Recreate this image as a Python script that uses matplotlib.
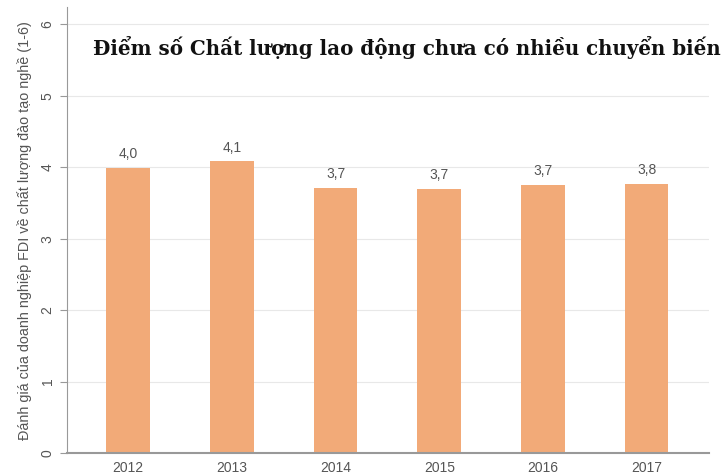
import numpy as np
import matplotlib.pyplot as plt

years = ['2012', '2013', '2014', '2015', '2016', '2017']
scores = [3.99, 4.08, 3.71, 3.69, 3.75, 3.76]
labels = ['4,0', '4,1', '3,7', '3,7', '3,7', '3,8']

plt.rcParams['font.family'] = ['Liberation Sans', 'DejaVu Sans']

fig = plt.figure(figsize=(7.22, 4.75), dpi=100)
ax = fig.add_axes([0.0928, 0.0463, 0.889, 0.9387])

x = np.arange(len(years))
bars = ax.bar(x, scores, width=0.42, color='#f2aa78', zorder=2)
for b, lab in zip(bars, labels):
    ax.annotate(lab, (b.get_x() + b.get_width() / 2, b.get_height()),
                xytext=(0, 5), textcoords='offset points',
                ha='center', va='bottom', fontsize=10, color='#555555')

ax.set_xlim(-0.59, 5.6)
ax.set_ylim(0, 6.24)
ax.set_yticks(range(7))
ax.set_xticks(x)
ax.set_xticklabels(years)
ax.yaxis.grid(True, color='#e8e8e8', linewidth=0.8, zorder=0)

for s in ['top', 'right']:
    ax.spines[s].set_visible(False)
ax.spines['left'].set_color('#999999')
ax.spines['bottom'].set_color('#999999')
ax.spines['bottom'].set_linewidth(1.5)

ax.tick_params(axis='x', length=0, pad=6, labelsize=10, labelcolor='#555555')
ax.tick_params(axis='y', length=5, color='#999999', labelsize=10,
               labelcolor='#555555', labelrotation=90, pad=4)
for t in ax.get_yticklabels():
    t.set_va('center')

ax.set_ylabel('Đánh giá của doanh nghiệp FDI về chất lượng đào tạo nghề (1-6)',
              fontsize=10.4, color='#555555', labelpad=6)

fig.text(0.129, 0.901, 'Điểm số Chất lượng lao động chưa có nhiều chuyển biến',
         fontsize=14.3, fontweight='bold', family='DejaVu Serif',
         color='#111111', va='center', ha='left')

fig.savefig('out.png', dpi=100)
